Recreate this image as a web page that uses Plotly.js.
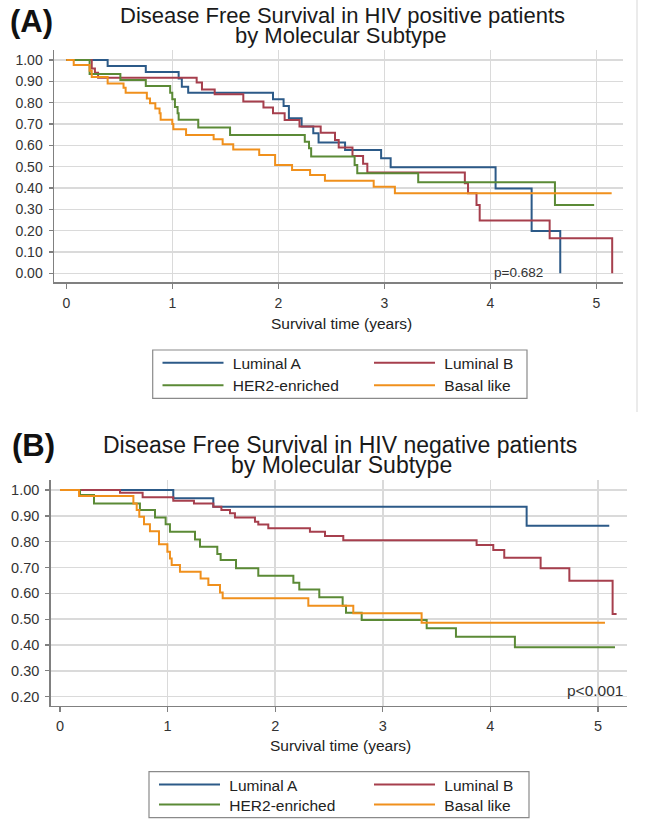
<!DOCTYPE html>
<html>
<head>
<meta charset="utf-8">
<script src="https://cdn.plot.ly/plotly-3.0.1.min.js"></script>
<style>html,body{margin:0;padding:0;background:#fff;}#chart{width:645px;height:838px;}</style>
</head>
<body>
<div id="chart"></div>
<script>
// ---------- DATA ----------
const seriesNames = ["Luminal A", "Luminal B", "HER2-enriched", "Basal like"];
const seriesColors = ["#2c5a88", "#a63f4d", "#5b8a36", "#f0901c"];

// Panel A: HIV positive
const posLumA_t = [0, 0.39, 0.75, 1.06, 1.09, 1.15, 1.95, 2.05, 2.10, 2.22, 2.33, 2.38, 2.63, 2.97, 3.06, 4.05, 4.39, 4.66];
const posLumA_s = [1, 0.972, 0.944, 0.913, 0.875, 0.847, 0.816, 0.784, 0.727, 0.688, 0.656, 0.613, 0.578, 0.539, 0.497, 0.397, 0.198, 0];
const posLumB_t = [0, 0.24, 0.27, 0.30, 1.23, 1.28, 1.40, 1.67, 1.86, 1.95, 2.06, 2.20, 2.40, 2.535, 2.57, 2.70, 2.80, 2.84, 3.76, 3.79, 3.87, 3.90, 4.56, 5.15];
const posLumB_s = [1, 0.96, 0.94, 0.917, 0.894, 0.862, 0.839, 0.805, 0.777, 0.75, 0.719, 0.688, 0.659, 0.625, 0.59, 0.55, 0.513, 0.472, 0.422, 0.375, 0.32, 0.247, 0.164, 0];
const posHer2_t = [0, 0.22, 0.51, 0.75, 0.98, 1.00, 1.025, 1.05, 1.06, 1.245, 1.545, 2.25, 2.29, 2.31, 2.72, 2.745, 3.32, 4.61, 4.98];
const posHer2_s = [1, 0.934, 0.906, 0.878, 0.847, 0.816, 0.78, 0.75, 0.72, 0.684, 0.648, 0.617, 0.586, 0.547, 0.508, 0.469, 0.427, 0.32, 0.32];
const posBasal_t = [0, 0.07, 0.22, 0.24, 0.39, 0.54, 0.56, 0.76, 0.79, 0.84, 0.88, 0.89, 1.0, 1.01, 1.13, 1.39, 1.475, 1.575, 1.82, 1.97, 2.13, 2.30, 2.44, 2.90, 3.10, 5.145];
const posBasal_s = [1, 0.977, 0.95, 0.92, 0.89, 0.87, 0.847, 0.82, 0.797, 0.773, 0.75, 0.72, 0.70, 0.675, 0.648, 0.628, 0.605, 0.58, 0.555, 0.508, 0.484, 0.461, 0.434, 0.406, 0.375, 0.375];

// Panel B: HIV negative
const negLumA_t = [0, 1.053, 1.425, 4.337, 5.105];
const negLumA_s = [1, 0.968, 0.935, 0.862, 0.862];
const negLumB_t = [0, 0.558, 0.768, 1.053, 1.245, 1.425, 1.50, 1.58, 1.626, 1.812, 1.843, 1.936, 2.323, 2.463, 2.633, 3.872, 4.027, 4.129, 4.467, 4.734, 5.136, 5.173];
const negLumB_s = [1, 0.99, 0.972, 0.959, 0.948, 0.935, 0.923, 0.91, 0.894, 0.877, 0.867, 0.852, 0.839, 0.822, 0.806, 0.787, 0.768, 0.738, 0.697, 0.649, 0.52, 0.52];
const negHer2_t = [0, 0.186, 0.316, 0.743, 0.883, 0.982, 1.022, 1.255, 1.301, 1.462, 1.493, 1.636, 1.843, 2.169, 2.224, 2.41, 2.627, 2.658, 2.804, 3.408, 3.68, 4.228, 5.158];
const negHer2_s = [1, 0.981, 0.948, 0.923, 0.894, 0.868, 0.839, 0.809, 0.781, 0.752, 0.729, 0.697, 0.668, 0.641, 0.615, 0.585, 0.552, 0.525, 0.497, 0.465, 0.432, 0.391, 0.391];
const negBasal_t = [0, 0.177, 0.682, 0.713, 0.737, 0.781, 0.836, 0.92, 0.998, 1.022, 1.038, 1.115, 1.307, 1.379, 1.487, 1.512, 2.308, 2.726, 3.361, 5.065];
const negBasal_s = [1, 0.977, 0.948, 0.923, 0.897, 0.868, 0.841, 0.79, 0.761, 0.735, 0.71, 0.684, 0.658, 0.632, 0.603, 0.581, 0.552, 0.523, 0.486, 0.486];

const xTickVals = [0, 1, 2, 3, 4, 5];
const xGridVals = [1, 2, 3, 4, 5];
const yTicksA = [0, 0.1, 0.2, 0.3, 0.4, 0.5, 0.6, 0.7, 0.8, 0.9, 1.0];
const yTicksB = [0.2, 0.3, 0.4, 0.5, 0.6, 0.7, 0.8, 0.9, 1.0];

const titleA1 = "Disease Free Survival in HIV positive patients";
const titleB1 = "Disease Free Survival in HIV negative patients";
const titleLine2 = "by Molecular Subtype";
const xTitle = "Survival time (years)";
const pTextA = "p=0.682";
const pTextB = "p<0.001";

// ---------- LAYOUT HELPERS ----------
const W = 645, H = 838;
const px = v => v / W;
const py = v => 1 - v / H;
const FONT = "Liberation Sans, Arial, Helvetica, sans-serif";
const LEG_PAD = "\u00a0";

const panelA = [[posLumA_t, posLumA_s], [posLumB_t, posLumB_s], [posHer2_t, posHer2_s], [posBasal_t, posBasal_s]];
const panelB = [[negLumA_t, negLumA_s], [negLumB_t, negLumB_s], [negHer2_t, negHer2_s], [negBasal_t, negBasal_s]];

const traces = [];
panelA.forEach((d, i) => {
  traces.push({type: "scatter", mode: "lines", x: d[0], y: d[1], name: LEG_PAD + seriesNames[i],
    line: {color: seriesColors[i], width: 2, shape: "hv"}, xaxis: "x", yaxis: "y",
    legend: i === 0 ? "legend" : "legend" + (i + 1), hoverinfo: "skip"});
});
panelB.forEach((d, i) => {
  traces.push({type: "scatter", mode: "lines", x: d[0], y: d[1], name: LEG_PAD + seriesNames[i],
    line: {color: seriesColors[i], width: 2, shape: "hv"}, xaxis: "x2", yaxis: "y2",
    legend: "legend" + (i + 5), hoverinfo: "skip"});
});
// empty helper traces so the grid-only axes exist
traces.push({type: "scatter", x: [], y: [], xaxis: "x3", yaxis: "y", showlegend: false});
traces.push({type: "scatter", x: [], y: [], xaxis: "x4", yaxis: "y2", showlegend: false});

const axisLine = "#808080";
const gridCol = "#dadada";

const rangeXA = [-0.116, 5.252];
const rangeXB = [-0.0864, 5.267];

function xAxis(domain, range, anchor, standoff, fs) {
  return {domain: domain, range: range, anchor: anchor, tickmode: "array", tickvals: xTickVals,
    showgrid: false, zeroline: false, showline: true, linecolor: axisLine, linewidth: 1.5,
    ticks: "outside", ticklen: 5, tickwidth: 1.2, tickcolor: axisLine,
    tickfont: {family: FONT, size: fs, color: "#333"},
    ticklabelstandoff: standoff, fixedrange: true};
}
function yAxis(domain, range, anchor, vals, fs) {
  return {domain: domain, range: range, anchor: anchor, tickmode: "array", tickvals: vals,
    tickformat: ".2f", showgrid: true, gridcolor: gridCol, gridwidth: 1.5, zeroline: false,
    showline: true, linecolor: axisLine, linewidth: 1.5, ticks: "outside", ticklen: 4,
    tickwidth: 1.2, tickcolor: axisLine, tickfont: {family: FONT, size: fs, color: "#333"},
    ticklabelstandoff: 3, fixedrange: true};
}
function gridAxis(over, anchor, range) {
  return {overlaying: over, anchor: anchor, range: range, tickmode: "array", tickvals: xGridVals,
    showgrid: true, gridcolor: gridCol, gridwidth: 1.5, showticklabels: false, ticks: "",
    showline: false, zeroline: false, fixedrange: true};
}

function legendAt(x, y) {
  return {x: px(x), y: py(y), xanchor: "left", yanchor: "middle", orientation: "v",
    bgcolor: "rgba(0,0,0,0)", borderwidth: 0, itemwidth: 61,
    font: {family: FONT, size: 15.5, color: "#222"}};
}

const layout = {
  width: W, height: H,
  margin: {l: 0, r: 0, t: 0, b: 0, pad: 0},
  paper_bgcolor: "#fff", plot_bgcolor: "rgba(0,0,0,0)",
  font: {family: FONT, color: "#222"},
  showlegend: true,
  xaxis: xAxis([px(54), px(623)], rangeXA, "y", 3, 14),
  yaxis: yAxis([py(282), py(50)], [-0.041, 1.047], "x", yTicksA, 14),
  xaxis3: gridAxis("x", "y", rangeXA),
  xaxis2: xAxis([px(50.7), px(626.7)], rangeXB, "y2", 1, 14.5),
  yaxis2: yAxis([py(705.7), py(480)], [0.165, 1.039], "x2", yTicksB, 14.5),
  xaxis4: gridAxis("x2", "y2", rangeXB),
  legend: legendAt(157.5, 363.3),
  legend2: legendAt(369, 363.3),
  legend3: legendAt(157.5, 385.7),
  legend4: legendAt(369, 385.7),
  legend5: legendAt(154, 785),
  legend6: legendAt(369, 785),
  legend7: legendAt(154, 805),
  legend8: legendAt(369, 805),
  shapes: [
    {type: "rect", xref: "paper", yref: "paper", x0: px(152.7), x1: px(527), y0: py(398.3), y1: py(350),
      line: {color: "#8a8a8a", width: 1.2}, fillcolor: "rgba(0,0,0,0)"},
    {type: "rect", xref: "paper", yref: "paper", x0: px(149), x1: px(529), y0: py(817.7), y1: py(771.7),
      line: {color: "#8a8a8a", width: 1.2}, fillcolor: "rgba(0,0,0,0)"},
    {type: "line", xref: "paper", yref: "paper", x0: px(637), x1: px(637), y0: py(0), y1: py(412),
      line: {color: "#ebebeb", width: 2}}
  ],
  annotations: [
    {text: "<b>(A)</b>", xref: "paper", yref: "paper", x: px(8), y: py(21.7), xanchor: "left", yanchor: "middle",
      showarrow: false, font: {family: FONT, size: 31, color: "#111"}},
    {text: "<b>(B)</b>", xref: "paper", yref: "paper", x: px(10), y: py(445.8), xanchor: "left", yanchor: "middle",
      showarrow: false, font: {family: FONT, size: 31, color: "#111"}},
    {text: titleA1, xref: "paper", yref: "paper", x: px(342), y: py(15.2), xanchor: "center", yanchor: "middle",
      showarrow: false, font: {family: FONT, size: 22, color: "#1a1a1a"}},
    {text: titleLine2, xref: "paper", yref: "paper", x: px(341), y: py(35.8), xanchor: "center", yanchor: "middle",
      showarrow: false, font: {family: FONT, size: 22, color: "#1a1a1a"}},
    {text: titleB1, xref: "paper", yref: "paper", x: px(340), y: py(445.3), xanchor: "center", yanchor: "middle",
      showarrow: false, font: {family: FONT, size: 23, color: "#1a1a1a"}},
    {text: titleLine2, xref: "paper", yref: "paper", x: px(341), y: py(465.3), xanchor: "center", yanchor: "middle",
      showarrow: false, font: {family: FONT, size: 23, color: "#1a1a1a"}},
    {text: xTitle, xref: "paper", yref: "paper", x: px(341), y: py(323.3), xanchor: "center", yanchor: "middle",
      showarrow: false, font: {family: FONT, size: 15.5, color: "#222"}},
    {text: xTitle, xref: "paper", yref: "paper", x: px(340), y: py(745), xanchor: "center", yanchor: "middle",
      showarrow: false, font: {family: FONT, size: 15.5, color: "#222"}},
    {text: pTextA, xref: "x", yref: "y", x: 4.013, y: 0.003, xanchor: "left", yanchor: "middle",
      showarrow: false, font: {family: FONT, size: 13.5, color: "#333"}},
    {text: pTextB, xref: "x2", yref: "y2", x: 4.693, y: 0.2257, xanchor: "left", yanchor: "middle",
      showarrow: false, font: {family: FONT, size: 15.5, color: "#333"}}
  ]
};

Plotly.newPlot("chart", traces, layout, {displayModeBar: false, staticPlot: true});
</script>
</body>
</html>
